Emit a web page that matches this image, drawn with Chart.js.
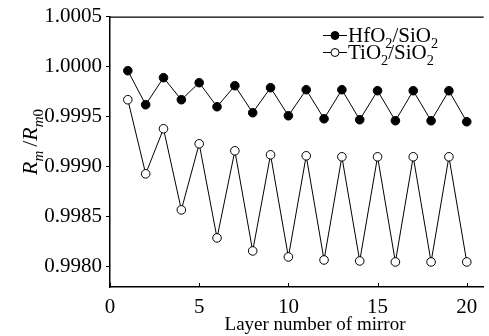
<!DOCTYPE html>
<html>
<head>
<meta charset="utf-8">
<script src="https://cdn.jsdelivr.net/npm/chart.js@4.4.1/dist/chart.umd.min.js"></script>
<style>
  html, body { margin: 0; padding: 0; background: #fff; overflow: hidden; }
  #wrap { width: 489px; height: 336px; }
</style>
</head>
<body>
<div id="wrap"><canvas id="myChart" width="489" height="336"></canvas></div>
<script>
// waarden
const layers = [1, 2, 3, 4, 5, 6, 7, 8, 9, 10, 11, 12, 13, 14, 15, 16, 17, 18, 19, 20];
const hfoSio = [0.99996, 0.99962, 0.99989, 0.99967, 0.99984, 0.99960, 0.99981, 0.99954, 0.99979, 0.99951,
                0.99977, 0.99948, 0.99977, 0.99947, 0.99976, 0.99946, 0.99976, 0.99946, 0.99976, 0.99945];
const tioSio = [0.99967, 0.99893, 0.99938, 0.99857, 0.99923, 0.99829, 0.99916, 0.99816, 0.99912, 0.99810,
                0.99911, 0.99807, 0.99910, 0.99806, 0.99910, 0.99805, 0.99910, 0.99805, 0.99910, 0.99805];
const xTicks = [0, 5, 10, 15, 20];
const yTicks = [0.9980, 0.9985, 0.9990, 0.9995, 1.0000, 1.0005];

const serif = "'Liberation Serif', serif";
Chart.defaults.font.family = serif;
Chart.defaults.font.size = 21;
Chart.defaults.color = '#000';

// tekst met subscript tekenen
function drawParts(ctx, parts, x, y, size) {
    let cx = x;
    parts.forEach(p => {
        const s = p.sub ? size * 0.68 : size;
        ctx.font = (p.it ? 'italic ' : '') + s + 'px ' + serif;
        ctx.fillText(p.t, cx, y + (p.sub ? size * 0.28 : 0));
        cx += ctx.measureText(p.t).width + (p.gap || 0);
    });
    return cx - x;
}
function measureParts(ctx, parts, size) {
    let w = 0;
    parts.forEach(p => {
        const s = p.sub ? size * 0.68 : size;
        ctx.font = (p.it ? 'italic ' : '') + s + 'px ' + serif;
        w += ctx.measureText(p.t).width + (p.gap || 0);
    });
    return w;
}

const extras = {
    id: 'extras',
    afterDraw(chart) {
        const ctx = chart.ctx;
        const a = chart.chartArea;
        const xs = chart.scales.x;
        ctx.save();
        ctx.strokeStyle = '#000';
        ctx.fillStyle = '#000';
        ctx.lineWidth = 1.3;
        // bovenrand
        ctx.beginPath();
        ctx.moveTo(a.left, a.top + 0.5);
        ctx.lineTo(a.right, a.top + 0.5);
        ctx.stroke();
        // x tick streepjes naar binnen
        ctx.lineWidth = 1;
        xTicks.forEach(v => {
            const px = Math.round(xs.getPixelForValue(v)) + 0.5;
            ctx.beginPath();
            ctx.moveTo(px, a.bottom);
            ctx.lineTo(px, a.bottom - 4);
            ctx.stroke();
        });

        // x as titel
        ctx.textBaseline = 'alphabetic';
        ctx.textAlign = 'center';
        ctx.font = '19px ' + serif;
        ctx.fillText('Layer number of mirror', 315, 330);

        // y as titel R_m /R_m0
        ctx.textAlign = 'left';
        const yParts = [
            { t: 'R', it: true }, { t: 'm', it: true, sub: true, gap: 4 },
            { t: '/' }, { t: 'R', it: true }, { t: 'm', it: true, sub: true }, { t: '0', sub: true }
        ];
        const w = measureParts(ctx, yParts, 22);
        ctx.translate(37, 142);
        ctx.rotate(-Math.PI / 2);
        drawParts(ctx, yParts, -w / 2, 0, 22);
        ctx.setTransform(1, 0, 0, 1, 0, 0);

        // legenda
        const rows = [
            { y: 35, fill: '#000', parts: [{ t: 'HfO' }, { t: '2', sub: true }, { t: '/SiO' }, { t: '2', sub: true }] },
            { y: 52, fill: '#fff', parts: [{ t: 'TiO' }, { t: '2', sub: true }, { t: '/SiO' }, { t: '2', sub: true }] }
        ];
        rows.forEach(r => {
            ctx.lineWidth = 1;
            ctx.beginPath();
            ctx.moveTo(323, r.y + 0.5);
            ctx.lineTo(347, r.y + 0.5);
            ctx.stroke();
            ctx.beginPath();
            ctx.arc(335, r.y + 0.5, 4, 0, Math.PI * 2);
            ctx.fillStyle = r.fill;
            ctx.fill();
            ctx.stroke();
            ctx.fillStyle = '#000';
            drawParts(ctx, r.parts, 348, r.y + 7, 21);
        });
        ctx.restore();
    }
};

const ctx = document.getElementById('myChart').getContext('2d');
const chart = new Chart(ctx, {
    type: 'scatter',
    data: {
        datasets: [{
            label: 'HfO2/SiO2',
            data: layers.map((x, i) => ({ x: x, y: hfoSio[i] })),
            showLine: true,
            borderColor: '#000',
            borderWidth: 1,
            pointRadius: 4.3,
            pointBackgroundColor: '#000',
            pointBorderColor: '#000',
            pointBorderWidth: 1
        }, {
            label: 'TiO2/SiO2',
            data: layers.map((x, i) => ({ x: x, y: tioSio[i] })),
            showLine: true,
            borderColor: '#000',
            borderWidth: 1,
            pointRadius: 4.3,
            pointBackgroundColor: '#fff',
            pointBorderColor: '#000',
            pointBorderWidth: 1
        }]
    },
    options: {
        responsive: false,
        animation: false,
        layout: { padding: { top: 13, right: 0, left: 0, bottom: 0 } },
        plugins: { legend: { display: false }, tooltip: { enabled: false } },
        scales: {
            x: {
                type: 'linear',
                min: 0,
                max: 20.95,
                afterBuildTicks: s => { s.ticks = xTicks.map(v => ({ value: v })); },
                afterFit: s => { s.height = 49; },
                grid: { display: false },
                border: { display: true, color: '#000', width: 1.5 },
                ticks: {
                    color: '#000',
                    padding: 0,
                    maxRotation: 0,
                    autoSkip: false,
                    font: { family: serif, size: 21 },
                    callback: v => String(v)
                }
            },
            y: {
                min: 0.9978,
                max: 1.0005,
                afterBuildTicks: s => { s.ticks = yTicks.map(v => ({ value: v })); },
                afterFit: s => { s.width = 110; },
                grid: { display: true, drawOnChartArea: false, drawTicks: true, tickLength: 4, color: '#000', lineWidth: 1 },
                border: { display: true, color: '#000', width: 1.5 },
                ticks: {
                    color: '#000',
                    padding: 4,
                    autoSkip: false,
                    font: { family: serif, size: 21 },
                    callback: v => v.toFixed(4)
                }
            }
        }
    },
    plugins: [extras]
});
</script>
</body>
</html>
